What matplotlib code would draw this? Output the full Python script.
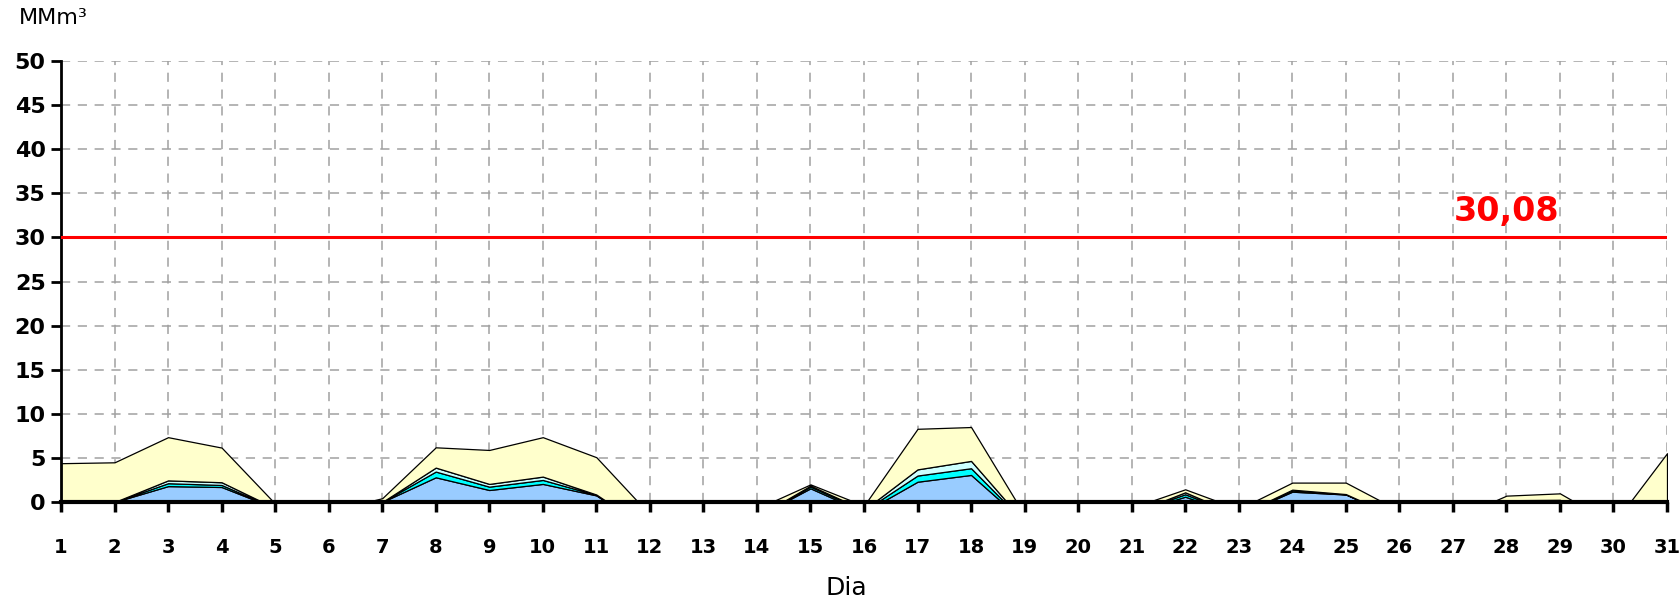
import numpy as np
from matplotlib import pyplot as plt

# valores diarios por camada (MMm3)
dias = list(range(1, 32))
azul = [0, 0, 1.8, 1.7, -0.69, -1.05, 0, 2.8, 1.36, 2.05, 0.75, -3.2, -1.5, -1.68, 1.55, -1.15,
        2.3, 3.07, -2.3, -1.5, -1.27, 0.6, -1.5, 1.17, 0.85, -1.83, -2.0, 0.1, 0.15, -2.5, 0]
ciano = [0, 0, 0.33, 0.23, 0, 0, 0, 0.65, 0.38, 0.45, 0.05, 0, 0, 0, 0.2, 0.15,
         0.7, 0.76, 0, 0, 0, 0.28, 0, 0.12, 0.03, 0, 0, 0.05, 0.05, 0, 0]
claro = [0, 0, 0.32, 0.31, 0, 0, 0, 0.45, 0.31, 0.38, 0.05, 0, 0, 0, 0.1, 0.1,
         0.7, 0.83, 0, 0, 0, 0.22, 0, 0.11, 0.02, 0, 0, 0.05, 0.05, 0, 0]
amarelo = [4.4, 4.5, 4.9, 3.93, 0.5, 0, 0.43, 2.3, 3.85, 4.47, 4.23, 1.77, 0.5, 0.94, 0.15, 0.48,
           4.6, 3.84, 0.8, 0.7, 0.62, 0.34, 0.7, 0.8, 1.3, 0.84, 0.05, 0.52, 0.73, 0, 5.53]
limite = 30.08
limite_txt = "30,08"
yticks = list(range(0, 51, 5))

fig = plt.figure(figsize=(16.79, 6.09), dpi=100)
ax = fig.add_axes([61/1679, 107/609, 1606/1679, 441/609])

ax.stackplot(dias, azul, ciano, claro, amarelo,
             colors=['#99CCFF', '#00FFFF', '#CCFFFF', '#FFFFCC'],
             edgecolor='black', linewidth=0.9)

ax.axhline(limite, color='#FF0000', linewidth=2.2, zorder=3)
ax.text(28, limite + 1.0, limite_txt, color='#FF0000', fontsize=24,
        fontweight='bold', ha='center', va='bottom')

ax.set_xlim(1, 31)
ax.set_ylim(0, 50)
ax.set_xticks(dias)
ax.set_yticks(yticks)
ax.set_axisbelow(True)
ax.grid(True, color='#A0A0A0', linestyle=(0, (6, 5)), linewidth=1.1)

ax.spines['top'].set_visible(False)
ax.spines['right'].set_visible(False)
ax.spines['left'].set_linewidth(2)
ax.spines['bottom'].set_linewidth(3)
ax.spines['bottom'].set_zorder(4)

ax.tick_params(axis='x', direction='out', length=7, width=2.5, pad=19, labelsize=14)
ax.tick_params(axis='y', direction='out', length=7, width=2, pad=4, labelsize=16)
for lab in ax.get_xticklabels() + ax.get_yticklabels():
    lab.set_fontweight('bold')

fig.text(0.011, 0.97, "MMm³", fontsize=16, ha='left', va='center')
fig.text(0.504, 0.035, "Dia", fontsize=18, ha='center', va='center')

plt.savefig('out.png', dpi=100)
